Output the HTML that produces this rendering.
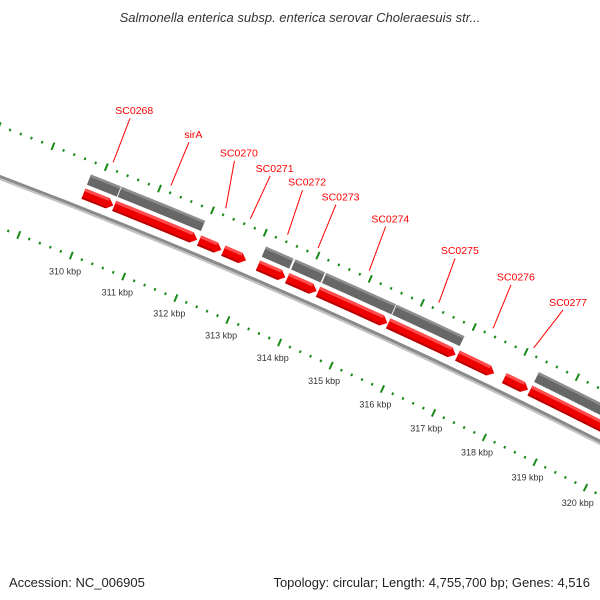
<!DOCTYPE html>
<html><head><meta charset="utf-8"><style>
html,body{margin:0;padding:0;background:#fff;width:600px;height:600px;overflow:hidden}
svg{display:block}
</style></head><body>
<svg id="map" width="600" height="600" viewBox="0 0 600 600" xmlns="http://www.w3.org/2000/svg">
<text x="300" y="22" text-anchor="middle" font-family="Liberation Sans, sans-serif" font-size="13" font-style="italic" fill="#333">Salmonella enterica subsp. enterica serovar Choleraesuis str...</text>
<g id="ticks"></g>
<g id="backbone"></g>
<g id="genes"></g>
<g id="labels"></g>
<text x="9" y="587" font-family="Liberation Sans, sans-serif" font-size="13" fill="#222">Accession: NC_006905</text>
<text x="590" y="587" text-anchor="end" font-family="Liberation Sans, sans-serif" font-size="13" fill="#222">Topology: circular; Length: 4,755,700 bp; Genes: 4,516</text>
</svg>
<script>
// data
const geneStarts = [309.79,310.37,311.98,312.44,313.10,313.66,314.25,315.60,316.94,317.85,318.35];
const geneEnds   = [310.37,311.96,312.42,312.89,313.64,314.24,315.60,316.92,317.67,318.33,320.60];
const geneHasGray = [1,1,0,0,1,1,1,1,0,0,1];
const labelNames = ["SC0268","sirA","SC0270","SC0271","SC0272","SC0273","SC0274","SC0275","SC0276","SC0277"];
const labelGene  = [0,1,2,3,4,5,6,7,8,9];
const labelKbp   = [310.07,311.17,312.02,312.69,313.30,313.93,314.87,316.19,317.26,318.26];
const tickLabels = [310,311,312,313,314,315,316,317,318,319,320];

// geometry
const CX=-2133, CY=5823;
const A0=-68.4, DEG_PER_KBP=0.54;
const R_IN=5988, R_OUT=6083, R_BB=6035, R_RED=6050, R_GRAY=6065;
const NS="http://www.w3.org/2000/svg";
function ang(k){return (A0+(k-310)*DEG_PER_KBP)*Math.PI/180;}
function pt(k,r){const a=ang(k);return [CX+r*Math.cos(a),CY+r*Math.sin(a)];}
function mk(tag,attrs,parent){const e=document.createElementNS(NS,tag);for(const k in attrs)e.setAttribute(k,attrs[k]);parent.appendChild(e);return e;}
function arcPath(k1,k2,r){const p=pt(k1,r),q=pt(k2,r);return `M${p[0]},${p[1]} A${r},${r} 0 0 1 ${q[0]},${q[1]}`;}
function band(k1,k2,r1,r2){const a=pt(k1,r2),b=pt(k2,r2),c=pt(k2,r1),d=pt(k1,r1);
  return `M${a[0]},${a[1]} A${r2},${r2} 0 0 1 ${b[0]},${b[1]} L${c[0]},${c[1]} A${r1},${r1} 0 0 0 ${d[0]},${d[1]} Z`;}

// ticks
const tg=document.getElementById('ticks');
for(let i=0;i<=80;i++){
  const k=307+i*0.2; const major=Math.abs(k-Math.round(k))<1e-6;
  [R_IN,R_OUT].forEach(r=>{
    const h=major?4:1.3;
    const p=pt(k,r-h),q=pt(k,r+h);
    const l=mk('line',{x1:p[0],y1:p[1],x2:q[0],y2:q[1],stroke:'#1a8a1a','stroke-width':2},tg);
    
    
  });
}
tickLabels.forEach(k=>{
  const p=pt(k,5971);
  const t=mk('text',{x:p[0],y:p[1]+3,'text-anchor':'middle','font-family':'Liberation Sans, sans-serif','font-size':'9',fill:'#333'},tg);
  t.textContent=k+' kbp';
  
  
});

// backbone
const bb=document.getElementById('backbone');
mk('path',{d:band(300,325,R_BB-2.5,R_BB+2.5),fill:'#8a8a8a'},bb);
mk('path',{d:band(300,325,R_BB-2.5,R_BB-0.5),fill:'#c4c4c4'},bb);

// genes
const gg=document.getElementById('genes');
for(let i=0;i<geneStarts.length;i++){
  const s=geneStarts[i]+0.008,e=geneEnds[i]-0.008;
  const hk=6/56.5;
  const hs=Math.max(s,e-hk);
  const o=R_RED+5.5,n=R_RED-5.5;
  const a=pt(s,o),b=pt(hs,o),tip=pt(e,R_RED),c=pt(hs,n),d=pt(s,n);
  const p=mk('path',{d:`M${a[0]},${a[1]} A${o},${o} 0 0 1 ${b[0]},${b[1]} L${tip[0]},${tip[1]} L${c[0]},${c[1]} A${n},${n} 0 0 0 ${d[0]},${d[1]} Z`,fill:'#ee0000'},gg);
  
  
  const hi=mk('path',{d:band(s,hs,o-3,o),fill:'#ff4d4d'},gg);
  
  
  const lo=mk('path',{d:band(s,hs,n,n+2),fill:'#b80000'},gg);
  
  
  if(geneHasGray[i]){
    const go=R_GRAY+5.5,gn=R_GRAY-5.5;
    const g=mk('path',{d:band(s,e,gn,go),fill:'#676767'},gg);
    
    
    const gh=mk('path',{d:band(s,e,go-2.5,go),fill:'#8e8e8e'},gg);
    
    
  }
}

// labels
const lg=document.getElementById('labels');
labelNames.forEach((nm,j)=>{
  const gi=labelGene[j];
  const mid=(geneStarts[gi]+geneEnds[gi])/2;
  const p=pt(mid,6090),q=pt(labelKbp[j],6137),t=pt(labelKbp[j],6146);
  const l=mk('line',{x1:p[0],y1:p[1],x2:q[0],y2:q[1],stroke:'#ff0000','stroke-width':1},lg);
  
  
  const tx=mk('text',{x:t[0]+1,y:t[1]+4,'text-anchor':'middle','font-family':'Liberation Sans, sans-serif','font-size':'10.5',fill:'#ff0000'},lg);
  tx.textContent=nm;
  
  
});
</script>
</body></html>
